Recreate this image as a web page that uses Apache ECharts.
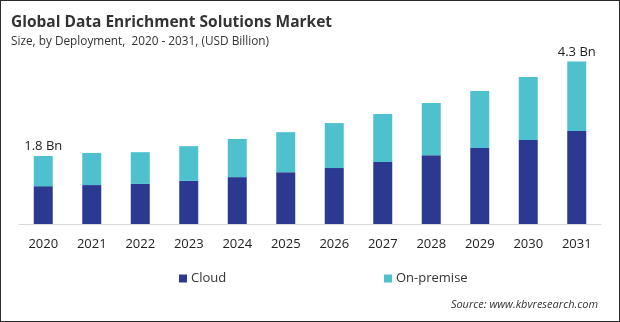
<!DOCTYPE html>
<html>
<head>
<meta charset="utf-8">
<script src="https://cdn.jsdelivr.net/npm/echarts@6/dist/echarts.min.js"></script>
<style>
html,body{margin:0;padding:0;background:#fff;}
#chart{position:absolute;left:0;top:0;width:620px;height:322px;}
#frame{position:absolute;left:0;top:0;width:620px;height:322px;box-sizing:border-box;border:1px solid #2b2b2b;pointer-events:none;}
</style>
</head>
<body>
<div id="chart"></div>
<div id="frame"></div>
<script>
const categories = ['2020','2021','2022','2023','2024','2025','2026','2027','2028','2029','2030','2031'];
const cloud = [1.00, 1.03, 1.06, 1.14, 1.24, 1.37, 1.48, 1.64, 1.82, 2.01, 2.22, 2.46];
const onPremise = [0.80, 0.85, 0.84, 0.92, 1.01, 1.06, 1.19, 1.27, 1.38, 1.51, 1.67, 1.84];
const seriesNames = ['Cloud', 'On-premise'];
const titleText = 'Global Data Enrichment Solutions Market';
const subText = 'Size, by Deployment,  2020 - 2031, (USD Billion)';
const sourceText = 'Source: www.kbvresearch.com';

const FONT = '"Open Sans", "Noto Sans", sans-serif';
const chart = echarts.init(document.getElementById('chart'), null, {renderer: 'canvas'});
const lastIdx = categories.length - 1;

chart.setOption({
  animation: false,
  backgroundColor: '#fff',
  title: {
    text: titleText,
    subtext: subText,
    left: 6,
    top: 10,
    itemGap: 5,
    textStyle: {fontFamily: FONT, fontSize: 15.5, fontWeight: 'bold', color: '#333'},
    subtextStyle: {fontFamily: FONT, fontSize: 11.8, color: '#333'}
  },
  legend: [
    {data: [seriesNames[0]], left: 179, top: 272, padding: 0, icon: 'rect', itemWidth: 8, itemHeight: 8, itemGap: 4,
     textStyle: {fontFamily: FONT, fontSize: 13, color: '#333', padding: [0,0,0,-1]}},
    {data: [seriesNames[1]], left: 384, top: 272, padding: 0, icon: 'rect', itemWidth: 8, itemHeight: 8, itemGap: 4,
     textStyle: {fontFamily: FONT, fontSize: 13, color: '#333', padding: [0,0,0,-1]}}
  ],
  grid: {left: 19, right: 19, top: 35, bottom: 98, containLabel: false},
  xAxis: {
    type: 'category',
    data: categories,
    axisLine: {lineStyle: {color: '#d9d9d9', width: 1}},
    axisTick: {show: false},
    axisLabel: {fontFamily: FONT, fontSize: 13, color: '#222', margin: 14}
  },
  yAxis: {
    type: 'value',
    min: 0,
    max: 5,
    show: false,
    splitLine: {show: false}
  },
  series: [
    {
      name: seriesNames[0],
      type: 'bar',
      stack: 'total',
      barWidth: 19,
      itemStyle: {color: '#2B3990'},
      data: cloud
    },
    {
      name: seriesNames[1],
      type: 'bar',
      stack: 'total',
      barWidth: 19,
      itemStyle: {color: '#4FC1CE'},
      label: {
        show: true,
        position: 'top',
        distance: 3,
        fontFamily: FONT,
        fontSize: 13,
        color: '#222',
        formatter: function (p) {
          if (p.dataIndex === 0 || p.dataIndex === lastIdx) {
            return (cloud[p.dataIndex] + onPremise[p.dataIndex]).toFixed(1) + ' Bn';
          }
          return '';
        }
      },
      data: onPremise
    }
  ],
  graphic: [
    {
      type: 'text',
      right: 22,
      top: 299,
      style: {text: sourceText, fontFamily: FONT, fontSize: 11, fontStyle: 'italic', fill: '#333'}
    }
  ]
});
</script>
</body>
</html>
